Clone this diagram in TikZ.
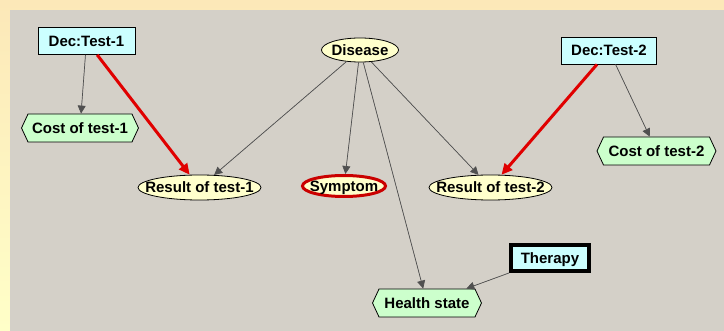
\documentclass[tikz,border=0pt]{standalone}
\usepackage{fontspec}
\setmainfont{Liberation Sans}
\usetikzlibrary{arrows.meta, positioning, shapes.geometric, shapes.symbols}
\definecolor{panelgray}{HTML}{D4D0C8}
\definecolor{bgtop}{HTML}{FCE8B8}
\definecolor{bgbottom}{HTML}{FFFFC8}
\definecolor{deccyan}{HTML}{CCFFFF}
\definecolor{chanceyellow}{HTML}{FFFFCC}
\definecolor{utilgreen}{HTML}{CCFFCC}
\definecolor{edgegray}{HTML}{505050}
\definecolor{linkred}{HTML}{E00000}
\tikzset{
  decbox/.style={rectangle,draw,fill=deccyan,align=center,inner sep=0pt,line width=0.8pt},
  chance/.style={ellipse,draw,fill=chanceyellow,align=center,inner sep=-20pt,line width=0.8pt},
  utility/.style={signal,signal to=east and west,signal pointer angle=130,draw,fill=utilgreen,
    align=center,inner xsep=0pt,inner ysep=0pt,line width=0.8pt},
  line/.style={-{Triangle[length=8pt,width=8pt]},draw=edgegray,fill=edgegray,line width=0.7pt},
  redline/.style={-{Triangle[length=11pt,width=10pt]},draw=linkred,fill=linkred,line width=3pt}
}

\begin{document}
\begin{tikzpicture}[x=1pt,y=-1pt,font=\fontsize{15}{17}\selectfont\bfseries,
  every node/.append style={text height=12pt,text depth=1pt}]
\useasboundingbox (0,0) rectangle (724,331);
\shade[top color=bgtop,bottom color=bgbottom] (0,0) rectangle (724,331);
\fill[panelgray] (10,10) rectangle (724,331);

% decisions
\node[decbox, minimum width=97pt, minimum height=27pt] (dt1) at (86.5,41) {Dec:Test-1};
\node[decbox, minimum width=95pt, minimum height=27pt] (dt2) at (609,50.5) {Dec:Test-2};
\node[decbox, line width=4pt, minimum width=78pt, minimum height=26pt] (ther) at (550,258) {Therapy};

% chance nodes
\node[chance, minimum width=77pt, minimum height=24pt] (dis) at (360,50) {Disease};
\node[chance, minimum width=123pt, minimum height=25pt] (res1) at (199.5,187.5) {Result of test-1};
\node[chance, minimum width=123pt, minimum height=25pt] (res2) at (490.5,187.5) {Result of test-2};
\node[chance, draw=linkred!90!black, line width=3pt, minimum width=83pt, minimum height=21pt] (symp) at (344,186) {Symptom};

% utilities
\node[utility, minimum width=117pt, minimum height=28pt] (cost1) at (80,128) {Cost of test-1};
\node[utility, minimum width=119pt, minimum height=28pt] (cost2) at (656.5,151) {Cost of test-2};
\node[utility, minimum width=109pt, minimum height=28pt] (health) at (427,303) {Health state};

\draw[line] (dt1) -- (cost1);
\draw[line] (dis) -- (res1);
\draw[line] (dis) -- (symp);
\draw[line] (dis) -- (health);
\draw[line] (dis) -- (res2);
\draw[line] (dt2) -- (cost2);
\draw[line] (ther) -- (health);
\draw[redline] (dt1) -- (res1);
\draw[redline] (dt2) -- (res2);
\end{tikzpicture}
\end{document}
